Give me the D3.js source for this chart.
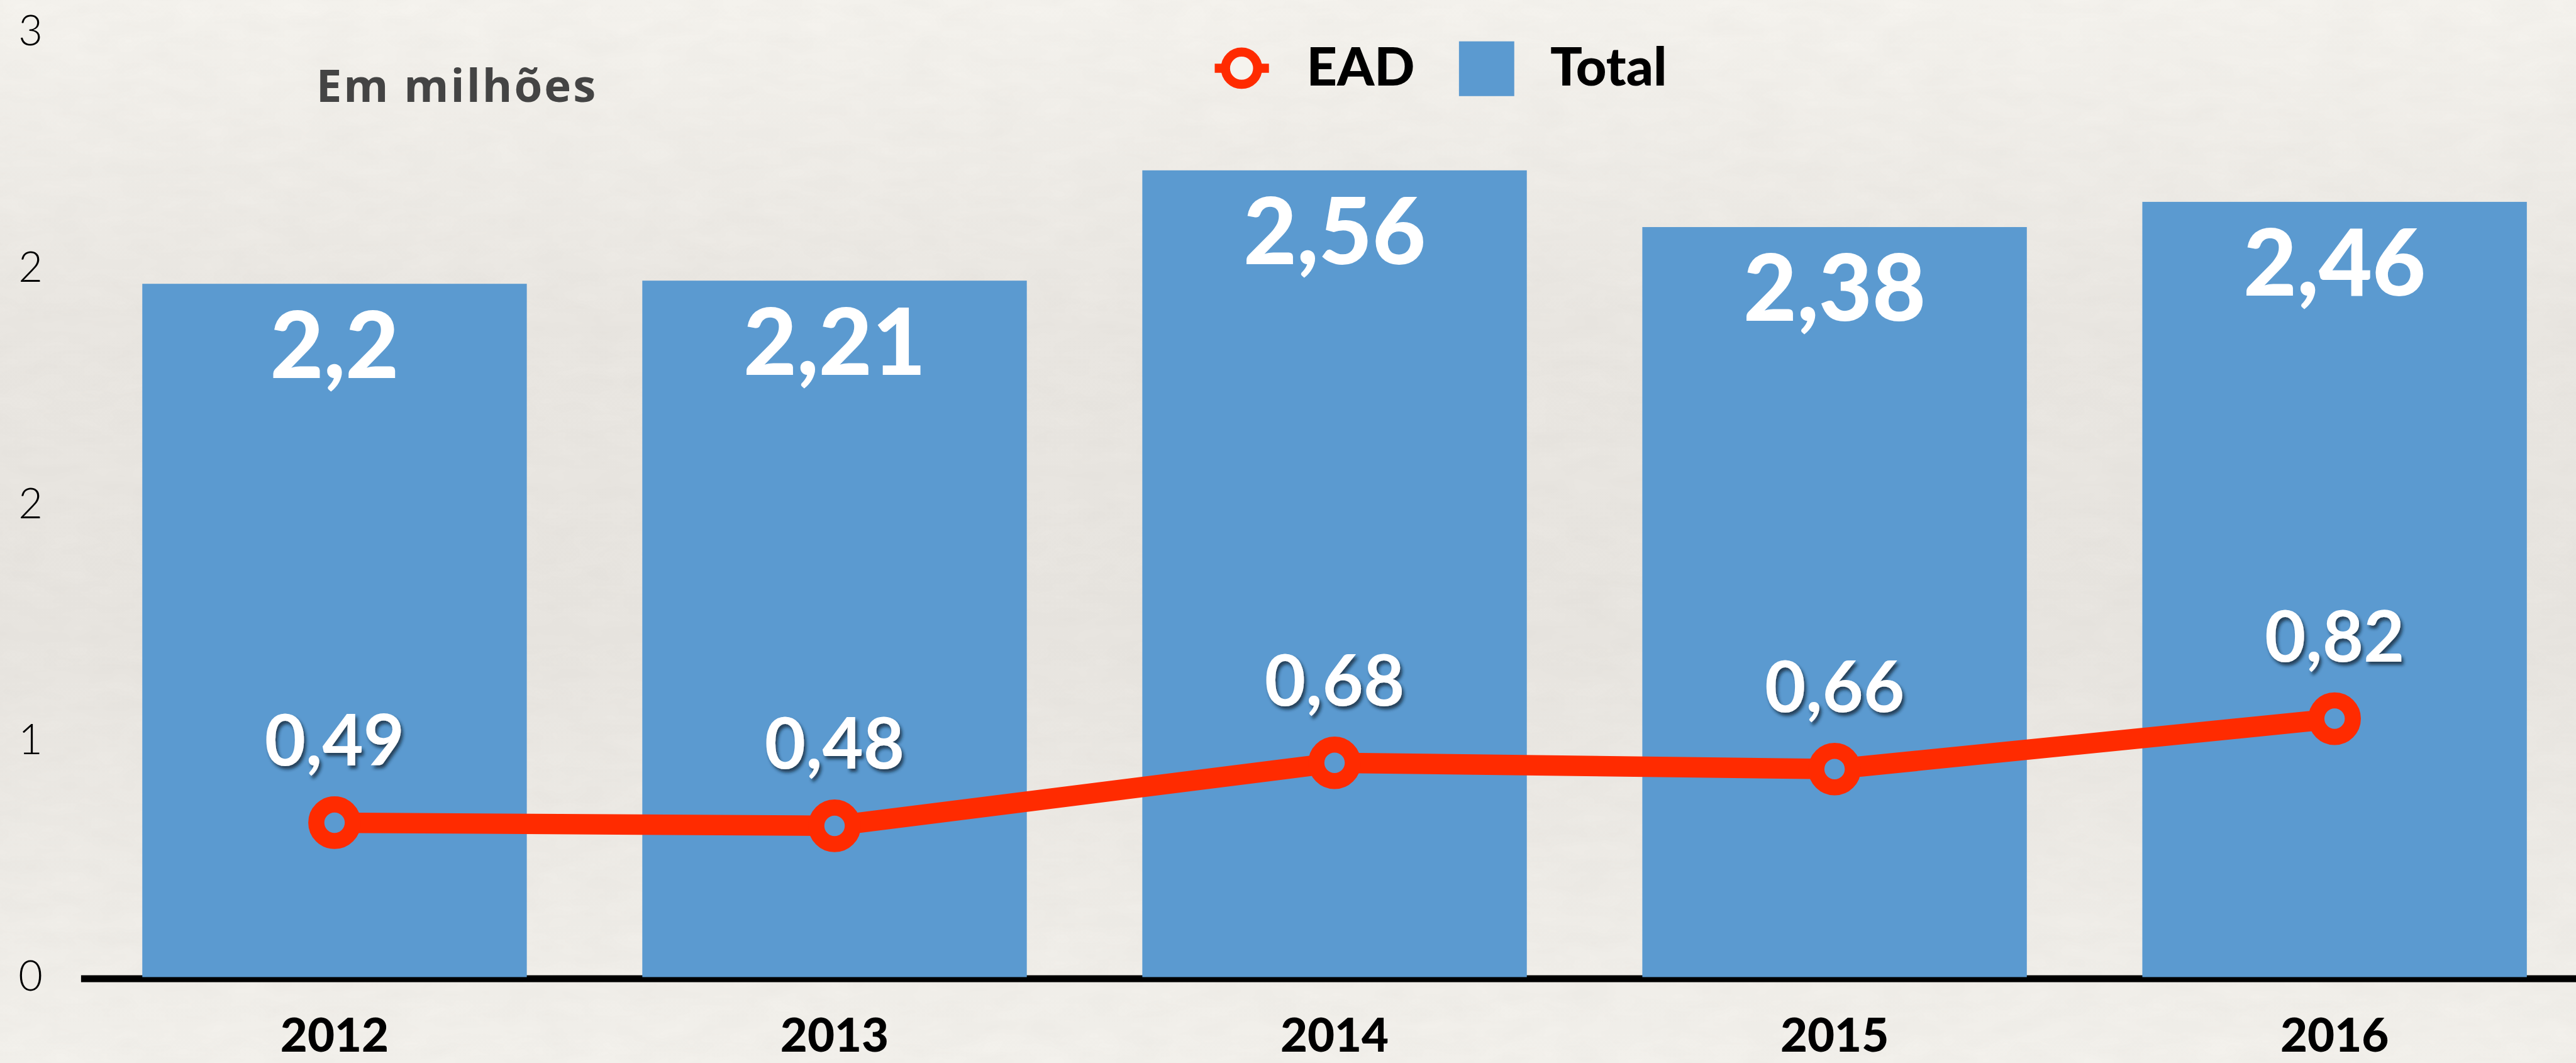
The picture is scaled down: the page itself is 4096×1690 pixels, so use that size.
<!DOCTYPE html>
<html>
<head>
<meta charset="utf-8">
<script src="https://cdn.jsdelivr.net/npm/d3@7"></script>
<style>
  html, body { margin: 0; padding: 0; background: #f3f1ec; overflow: hidden; }
  svg { display: block; }
</style>
</head>
<body>
<svg id="chart"></svg>
<script>
// Data (em milhões)
const years = ["2012", "2013", "2014", "2015", "2016"];
const totalValues = [2.2, 2.21, 2.56, 2.38, 2.46];
const eadValues = [0.49, 0.48, 0.68, 0.66, 0.82];
const yTicks = [0, 0.75, 1.5, 2.25, 3];

const barColor = "#5b9ad0";
const lineColor = "#ff2b00";

// drawn in the reference's coordinates, scaled down by the viewBox
const W = 4799, H = 1980;
const svg = d3.select("#chart")
  .attr("width", 4096)
  .attr("height", 1690)
  .attr("viewBox", `0 0 ${W} ${H}`);

const defs = svg.append("defs");

const bg = defs.append("linearGradient")
  .attr("id", "paper")
  .attr("x1", 0).attr("y1", 0).attr("x2", 0).attr("y2", 1);
bg.append("stop").attr("offset", "0%").attr("stop-color", "#f6f4ef");
bg.append("stop").attr("offset", "30%").attr("stop-color", "#ebe8e3");
bg.append("stop").attr("offset", "60%").attr("stop-color", "#e9e6e1");
bg.append("stop").attr("offset", "100%").attr("stop-color", "#f4f2ed");

const grain = defs.append("filter").attr("id", "grain")
  .attr("x", 0).attr("y", 0).attr("width", "100%").attr("height", "100%");
grain.append("feTurbulence")
  .attr("type", "fractalNoise")
  .attr("baseFrequency", "0.012 0.03")
  .attr("numOctaves", 3)
  .attr("seed", 4);
grain.append("feColorMatrix")
  .attr("values", "0 0 0 0 0.45  0 0 0 0 0.43  0 0 0 0 0.40  0 0 0 0.09 0");

const shadow = defs.append("filter").attr("id", "shadow")
  .attr("x", "-20%").attr("y", "-20%").attr("width", "140%").attr("height", "150%");
shadow.append("feDropShadow")
  .attr("dx", 4).attr("dy", 6)
  .attr("stdDeviation", 3)
  .attr("flood-color", "#102030")
  .attr("flood-opacity", 0.75);

svg.append("rect").attr("width", W).attr("height", H).attr("fill", "url(#paper)");
svg.append("rect").attr("width", W).attr("height", H).attr("filter", "url(#grain)");

// Scales
const x = d3.scaleBand()
  .domain(years)
  .range([157.5, 4815])
  .paddingInner(0.231)
  .paddingOuter(0.1155);

const y = d3.scaleLinear()
  .domain([0, 3])
  .range([1820, 59]);

const fmt = v => String(v).replace(".", ",");

// Y axis: labels only
const yAxis = svg.append("g")
  .attr("transform", "translate(57,0)")
  .call(d3.axisLeft(y).tickValues(yTicks).tickFormat(d3.format(".0f")).tickSize(0));
yAxis.select(".domain").remove();
yAxis.selectAll("text")
  .attr("x", 0)
  .attr("text-anchor", "middle")
  .attr("fill", "#000")
  .style("font-family", "Lato, 'Open Sans', sans-serif")
  .style("font-weight", 300)
  .style("font-size", "78px");

// X axis (baseline + years)
const xAxis = svg.append("g")
  .attr("transform", "translate(0,1823)")
  .call(d3.axisBottom(x).tickSize(0).tickSizeOuter(0).tickPadding(74));
xAxis.select(".domain")
  .attr("stroke", "#000")
  .attr("stroke-width", 13)
  .attr("d", "M151,0H4799");
xAxis.selectAll("text")
  .attr("fill", "#000")
  .style("font-family", "Lato, sans-serif")
  .style("font-weight", 900)
  .style("font-size", "87px");

// Bars
svg.append("g")
  .selectAll("rect")
  .data(years)
  .join("rect")
  .attr("x", d => x(d))
  .attr("y", (d, i) => y(totalValues[i]))
  .attr("width", x.bandwidth())
  .attr("height", (d, i) => y(0) - y(totalValues[i]))
  .attr("fill", barColor);

// Total labels
svg.append("g")
  .selectAll("text")
  .data(years)
  .join("text")
  .attr("x", d => x(d) + x.bandwidth() / 2)
  .attr("y", (d, i) => y(totalValues[i]) + 175)
  .attr("text-anchor", "middle")
  .attr("fill", "#fff")
  .style("font-family", "Lato, sans-serif")
  .style("font-weight", 900)
  .style("font-size", "172px")
  .text((d, i) => fmt(totalValues[i]));

// EAD line
const line = d3.line()
  .x((d, i) => x(years[i]) + x.bandwidth() / 2)
  .y(d => y(d));

svg.append("path")
  .datum(eadValues)
  .attr("d", line)
  .attr("fill", "none")
  .attr("stroke", lineColor)
  .attr("stroke-width", 38)
  .attr("stroke-linejoin", "round");

svg.append("g")
  .selectAll("circle")
  .data(eadValues)
  .join("circle")
  .attr("cx", (d, i) => x(years[i]) + x.bandwidth() / 2)
  .attr("cy", d => y(d))
  .attr("r", 34)
  .attr("fill", barColor)
  .attr("stroke", lineColor)
  .attr("stroke-width", 30);

// EAD labels
svg.append("g")
  .selectAll("text")
  .data(eadValues)
  .join("text")
  .attr("x", (d, i) => x(years[i]) + x.bandwidth() / 2)
  .attr("y", d => y(d) - 106)
  .attr("text-anchor", "middle")
  .attr("fill", "#fff")
  .attr("filter", "url(#shadow)")
  .style("font-family", "Lato, sans-serif")
  .style("font-weight", 700)
  .style("font-size", "132px")
  .text(d => fmt(d));

// Subtitle
svg.append("text")
  .attr("x", 589)
  .attr("y", 190)
  .attr("fill", "#444")
  .style("font-family", "'Open Sans', sans-serif")
  .style("font-weight", 700)
  .style("font-size", "85px")
  .style("letter-spacing", "3.5px")
  .text("Em milhões");

// Legend
const legend = svg.append("g");
legend.append("line")
  .attr("x1", 2263).attr("x2", 2364)
  .attr("y1", 127).attr("y2", 127)
  .attr("stroke", lineColor)
  .attr("stroke-width", 17);
legend.append("circle")
  .attr("cx", 2313).attr("cy", 127)
  .attr("r", 30)
  .attr("fill", "#f5f3ee")
  .attr("stroke", lineColor)
  .attr("stroke-width", 17);
legend.append("text")
  .attr("x", 2434).attr("y", 159)
  .attr("fill", "#000")
  .style("font-family", "Lato, sans-serif")
  .style("font-weight", 900)
  .style("font-size", "99px")
  .text("EAD");
legend.append("rect")
  .attr("x", 2718).attr("y", 77)
  .attr("width", 103).attr("height", 102)
  .attr("fill", barColor);
legend.append("text")
  .attr("x", 2888).attr("y", 159)
  .attr("fill", "#000")
  .style("font-family", "Lato, sans-serif")
  .style("font-weight", 900)
  .style("font-size", "99px")
  .text("Total");
</script>
</body>
</html>
